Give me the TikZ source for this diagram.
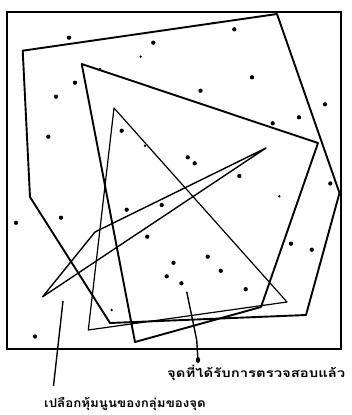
\documentclass[tikz,border=0pt]{standalone}
\usepackage{fontspec}
\newfontfamily\thaifont[Script=Thai]{Loma}
\begin{document}
\begin{tikzpicture}[x=1pt,y=-1pt,
  dot/.style={circle,fill=black,inner sep=0pt,minimum size=4.3pt},
  sdot/.style={circle,fill=black,inner sep=0pt,minimum size=2.6pt},
  frame/.style={line width=2.2pt},
  hull/.style={line width=1.9pt,line join=round},
  quad/.style={line width=1.9pt,line join=round},
  tri/.style={line width=1.2pt,line join=round},
  needle/.style={line width=1.4pt,line join=round},
  pointer/.style={line width=1.4pt},
  lab/.style={font=\thaifont\bfseries\fontsize{12}{13}\selectfont,inner sep=0pt,anchor=west}]
\useasboundingbox (0,0) rectangle (351,415);
\draw[frame] (7,12) rectangle (341,349);
% outer hull
\coordinate (p1) at (22.7,50.7);
\coordinate (p2) at (277,14);
\coordinate (p3) at (339.5,193);
\coordinate (p4) at (306,315);
\coordinate (p5) at (110,323);
\coordinate (p6) at (30,197);
\draw[hull] (p1) -- (p2) -- (p3) -- (p4) -- (p5) -- (p6) -- cycle;
% quadrilateral
\coordinate (q1) at (81.7,64);
\coordinate (q2) at (318,143);
\coordinate (q3) at (261,307);
\coordinate (q4) at (135,342);
\draw[quad] (q1) -- (q2) -- (q3) -- (q4) -- cycle;
% thin triangle
\coordinate (t1) at (114,108);
\coordinate (t2) at (287,302);
\coordinate (t3) at (88.3,330);
\draw[tri] (t1) -- (t2) -- (t3) -- cycle;
% needle triangle
\coordinate (n1) at (42.7,296.7);
\coordinate (n2) at (95,232);
\coordinate (n3) at (266,148);
\draw[needle] (n1) -- (n2) -- (n3) -- cycle;
% points
\foreach \x/\y [count=\i] in {69/37.7,153.3/42.7,234.3/29.3,252/77.3,200.5/90.7,75/82.7,56/96.7,325/104.3,299/117.3,272.7/123.3,48.3/136.7,121.7/130.7,187.8/157.3,194.7/163.3,239.3/176,330.3/183.5,16/222.8,61/217.7,126.7/209.7,161.7/205,147.2/236.7,173.5/262.8,207.7/256.7,220.8/270.8,166.7/276.3,181.4/283.3,245.7/289.2,291/243.7,311.8/249.7,35/336.5}
  \node[dot] (d\i) at (\x,\y) {};
\foreach \x/\y [count=\i] in {140.7/56.7,279.3/196.3,145/145.7,213/23,100/69,111.7/310}
  \node[sdot] (s\i) at (\x,\y) {};
% labels
\node[lab] (l1) at (167,373) {\scalebox{1.24}[1]{จุดที่ได้รับการตรวจสอบแล้ว}};
\node[lab] (l2) at (44,404) {\scalebox{1.11}[1]{เปลือกหุ้มนูนของกลุ่มของจุด}};
\coordinate (a1) at (63,301);
\coordinate (a2) at (53.5,386);
\draw[pointer] (a1) -- (a2);
\coordinate (b1) at (186.7,291.7);
\coordinate (b2) at (196.7,340);
\coordinate (b3) at (198,360);
\draw[pointer] (b1) -- (b2) -- (b3);
\fill (b3) ellipse (2.2pt and 3pt);
\end{tikzpicture}
\end{document}
